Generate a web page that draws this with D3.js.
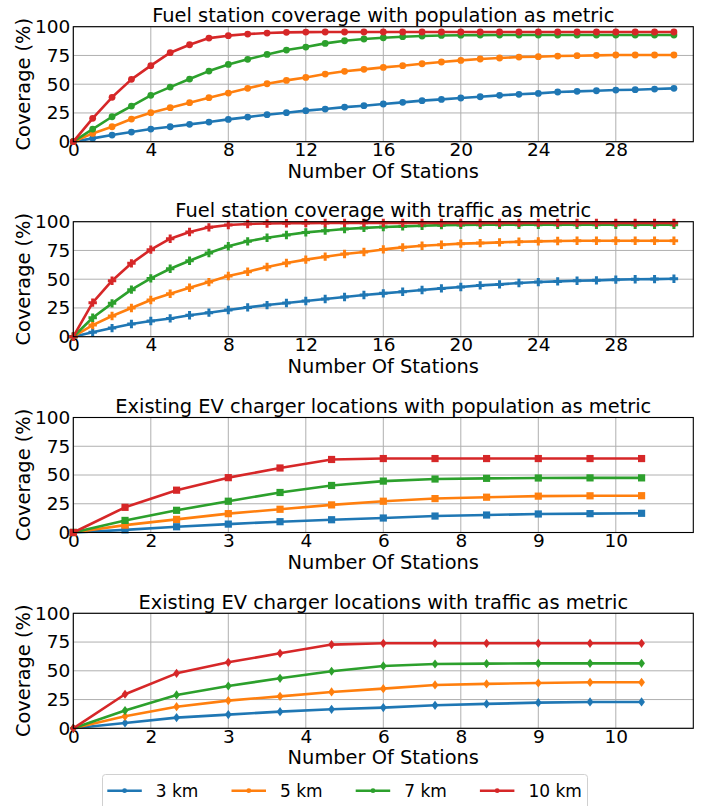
<!DOCTYPE html>
<html>
<head>
<meta charset="utf-8">
<script src="https://cdn.jsdelivr.net/npm/d3@7"></script>
<style>
  html, body { margin: 0; padding: 0; background: #fff; }
  text { font-family: "DejaVu Sans", sans-serif; fill: #000; }
</style>
</head>
<body>
<svg id="chart" width="705" height="806"></svg>
<script>
// ---------------- DATA ----------------
const seriesNames = ["3 km", "5 km", "7 km", "10 km"];
const colors = ["#1f77b4", "#ff7f0e", "#2ca02c", "#d62728"];

const titles = [
  "Fuel station coverage with population as metric",
  "Fuel station coverage with traffic as metric",
  "Existing EV charger locations with population as metric",
  "Existing EV charger locations with traffic as metric"
];

const xTicks = [0, 4, 8, 12, 16, 20, 24, 28];
const fuelTickLabels = ["0", "4", "8", "12", "16", "20", "24", "28"];
const evTickLabels = ["0", "2", "3", "4", "6", "8", "9", "10"];
const yTicks = [0, 25, 50, 75, 100];

const fuelStations = [0,1,2,3,4,5,6,7,8,9,10,11,12,13,14,15,16,17,18,19,20,21,22,23,24,25,26,27,28,29,30,31];
const evStations = [0, 2.67, 5.33, 8, 10.67, 13.33, 16, 18.67, 21.33, 24, 26.67, 29.33];

const popFuel3 = [0,2.9,5.8,8.4,11.0,13.0,15.1,17.1,19.4,21.4,23.5,25.2,27.0,28.4,30.1,31.3,32.8,34.2,35.7,36.8,38.0,39.1,40.3,41.2,42.0,43.2,43.8,44.3,44.9,45.2,45.8,46.4];
const popFuel5 = [0,7.2,13.0,19.7,25.2,29.6,33.9,38.3,42.3,46.4,50.4,53.3,55.9,58.8,61.2,62.9,64.6,66.1,67.8,69.3,70.7,71.9,72.8,73.6,73.9,74.5,74.8,75.1,75.4,75.4,75.4,75.4];
const popFuel7 = [0,11.0,21.7,31.0,40.3,47.5,54.5,61.4,67.2,71.6,75.9,79.7,82.3,85.5,87.8,89.3,90.4,91.3,91.9,92.4,92.6,92.7,92.8,92.8,92.8,92.8,92.8,92.8,92.8,92.8,92.8,92.8];
const popFuel10 = [0,20.3,38.6,54.2,66.1,77.4,84.3,90.1,92.2,93.6,94.5,95.1,95.3,95.4,95.4,95.4,95.4,95.4,95.4,95.4,95.4,95.4,95.4,95.4,95.4,95.4,95.4,95.4,95.4,95.4,95.4,95.4];

const trafFuel3 = [0,3.8,7.5,11.0,13.6,15.9,18.6,20.9,23.2,25.5,27.5,29.3,31.0,32.8,34.5,36.2,37.7,39.1,40.6,42.0,43.2,44.6,45.5,46.7,47.5,48.1,48.7,49.0,49.6,49.9,50.1,50.4];
const trafFuel5 = [0,10.1,18.0,24.9,31.9,37.4,42.6,47.5,52.8,56.5,60.6,64.1,67.0,69.6,71.9,73.6,75.9,77.7,79.1,80.0,80.9,81.4,82.0,82.6,82.9,83.2,83.4,83.5,83.5,83.5,83.5,83.5];
const trafFuel7 = [0,16.5,29.0,40.9,50.7,59.1,66.1,72.8,78.6,82.9,86.1,88.4,90.7,92.2,93.6,94.6,95.4,95.9,96.5,97.0,97.2,97.3,97.4,97.4,97.4,97.4,97.4,97.4,97.4,97.4,97.4,97.4];
const trafFuel10 = [0,29.6,48.7,63.8,75.7,85.2,91.0,95.1,97.1,98.0,98.5,98.7,98.8,98.9,99.0,99.0,99.0,99.0,99.0,99.0,99.0,99.0,99.0,99.0,99.0,99.0,99.0,99.0,99.0,99.0,99.0,99.0];

const popEV3 = [0,2.3,5.0,7.3,9.4,11.1,12.6,14.3,15.2,16.1,16.4,16.7];
const popEV5 = [0,6.4,11.4,16.4,20.2,24.0,27.2,29.5,30.7,31.6,31.9,32.0];
const popEV7 = [0,10.5,19.3,27.2,34.8,40.9,44.7,46.5,47.1,47.4,47.5,47.5];
const popEV10 = [0,21.9,36.8,47.7,56.1,63.5,64.3,64.3,64.3,64.3,64.3,64.3];

const trafEV3 = [0,4.6,9.3,11.9,14.5,16.5,18.0,20.0,21.2,22.3,22.9,22.9];
const trafEV5 = [0,10.4,18.8,24.1,27.8,31.6,34.5,37.7,38.6,39.4,40.0,40.0];
const trafEV7 = [0,15.4,29.0,36.8,43.5,49.6,54.2,55.9,56.2,56.5,56.5,56.5];
const trafEV10 = [0,29.6,47.8,57.4,65.2,72.8,73.9,73.9,73.9,73.9,73.9,73.9];

const panels = [
  { title: titles[0], xs: fuelStations, series: [popFuel3, popFuel5, popFuel7, popFuel10], labels: fuelTickLabels, marker: "circle" },
  { title: titles[1], xs: fuelStations, series: [trafFuel3, trafFuel5, trafFuel7, trafFuel10], labels: fuelTickLabels, marker: "plus" },
  { title: titles[2], xs: evStations, series: [popEV3, popEV5, popEV7, popEV10], labels: evTickLabels, marker: "square" },
  { title: titles[3], xs: evStations, series: [trafEV3, trafEV5, trafEV7, trafEV10], labels: evTickLabels, marker: "diamond" }
];

// ---------------- LAYOUT ----------------
const svg = d3.select("#chart");
const left = 73.3, right = 693.3, plotH = 115;
const tops = [26.7, 221.7, 417.5, 613.3];
const x = d3.scaleLinear().domain([0, 32]).range([left, right]);

function markerPath(kind) {
  if (kind === "plus") {
    const a = 4.2, b = 1.5;
    return `M${-b},${-a}H${b}V${-b}H${a}V${b}H${b}V${a}H${-b}V${b}H${-a}V${-b}H${-b}Z`;
  }
  if (kind === "square") return "M-3.6,-3.6H3.6V3.6H-3.6Z";
  if (kind === "diamond") return "M0,-4.6L3.4,0L0,4.6L-3.4,0Z";
  return null;
}

panels.forEach((p, pi) => {
  const top = tops[pi], bottom = top + plotH;
  const y = d3.scaleLinear().domain([0, 100]).range([bottom, top]);
  const g = svg.append("g");

  g.append("g").selectAll("line").data(xTicks).join("line")
    .attr("x1", d => x(d)).attr("x2", d => x(d)).attr("y1", top).attr("y2", bottom)
    .attr("stroke", "#b0b0b0").attr("stroke-width", 1);
  g.append("g").selectAll("line").data(yTicks).join("line")
    .attr("x1", left).attr("x2", right).attr("y1", d => y(d)).attr("y2", d => y(d))
    .attr("stroke", "#b0b0b0").attr("stroke-width", 1);

  const xAxis = d3.axisBottom(x).tickValues(xTicks).tickSize(0).tickPadding(1.5)
    .tickFormat((d, i) => p.labels[i]);
  const gx = g.append("g").attr("transform", `translate(0,${bottom})`).call(xAxis);
  gx.select(".domain").remove();
  gx.selectAll("text").attr("font-size", 18.5).attr("font-family", "DejaVu Sans").attr("fill", "#000");

  const yAxis = d3.axisLeft(y).tickValues(yTicks).tickSize(0).tickPadding(3);
  const gy = g.append("g").attr("transform", `translate(${left},0)`).call(yAxis);
  gy.select(".domain").remove();
  gy.selectAll("text").attr("font-size", 18.5).attr("font-family", "DejaVu Sans").attr("fill", "#000");

  const line = d3.line().x((d, i) => x(p.xs[i])).y(d => y(d));
  p.series.forEach((vals, si) => {
    const sg = g.append("g");
    sg.append("path").attr("d", line(vals)).attr("fill", "none")
      .attr("stroke", colors[si]).attr("stroke-width", 2.6).attr("stroke-linejoin", "round");
    if (p.marker === "circle") {
      sg.selectAll("circle").data(vals).join("circle")
        .attr("cx", (d, i) => x(p.xs[i])).attr("cy", d => y(d)).attr("r", 3.4)
        .attr("fill", colors[si]);
    } else {
      const mp = markerPath(p.marker);
      sg.selectAll("path.m").data(vals).join("path").attr("class", "m")
        .attr("d", mp).attr("fill", colors[si])
        .attr("transform", (d, i) => `translate(${x(p.xs[i])},${y(d)})`);
    }
  });

  g.append("rect").attr("x", left).attr("y", top).attr("width", right - left).attr("height", plotH)
    .attr("fill", "none").attr("stroke", "#000").attr("stroke-width", 1.1);

  g.append("text").attr("x", (left + right) / 2).attr("y", top - 4.3)
    .attr("text-anchor", "middle").attr("font-size", 19.4).text(p.title);
  g.append("text").attr("x", (left + right) / 2).attr("y", bottom + 36)
    .attr("text-anchor", "middle").attr("font-size", 19.4).text("Number Of Stations");
  g.append("text").attr("transform", `translate(29.5,${(top + bottom) / 2}) rotate(-90)`)
    .attr("text-anchor", "middle").attr("font-size", 19.4).text("Coverage (%)");
});

// ---------------- LEGEND ----------------
const lg = svg.append("g");
lg.append("rect").attr("x", 102.5).attr("y", 774.5).attr("width", 485).attr("height", 45)
  .attr("rx", 3).attr("fill", "#fff").attr("fill-opacity", 0.8).attr("stroke", "#d0d0d0").attr("stroke-width", 1);
const legX = [107.3, 231.5, 355.7, 479.9];
seriesNames.forEach((name, i) => {
  const lx = legX[i], ly = 790.7;
  lg.append("line").attr("x1", lx).attr("x2", lx + 34.5).attr("y1", ly).attr("y2", ly)
    .attr("stroke", colors[i]).attr("stroke-width", 2.6);
  lg.append("circle").attr("cx", lx + 17.3).attr("cy", ly).attr("r", 2.4).attr("fill", colors[i]);
  lg.append("text").attr("x", lx + 48.5).attr("y", ly).attr("dy", "0.35em")
    .attr("font-size", 17).text(name);
});
</script>
</body>
</html>
